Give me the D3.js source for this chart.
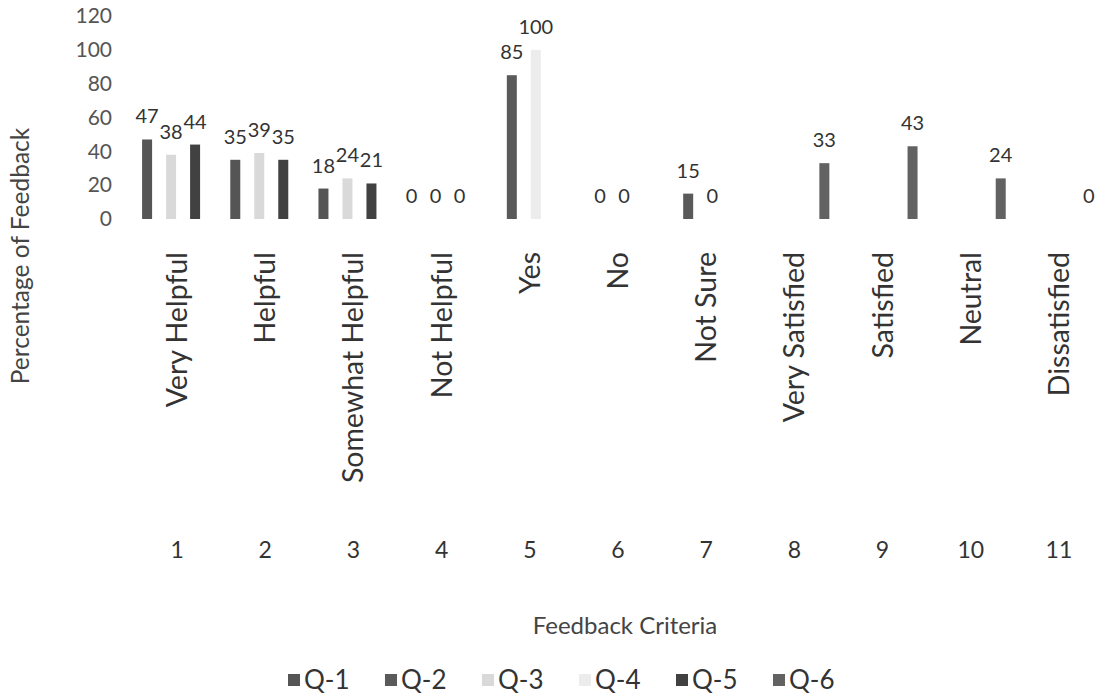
<!DOCTYPE html>
<html>
<head>
<meta charset="utf-8">
<script src="https://cdn.jsdelivr.net/npm/d3@7"></script>
<style>
  body { margin: 0; background: #fff; }
  text { font-family: Lato, "Open Sans", sans-serif; }
</style>
</head>
<body>
<div id="chart_root"></div>
<script>
const widthValue = 1097;
const heightValue = 696;

// category labels (inner level) and group numbers (outer level)
const categories = ["Very Helpful", "Helpful", "Somewhat Helpful", "Not Helpful", "Yes", "No",
  "Not Sure", "Very Satisfied", "Satisfied", "Neutral", "Dissatisfied"];
const groupNumbers = ["1", "2", "3", "4", "5", "6", "7", "8", "9", "10", "11"];
const seriesNames = ["Q-1", "Q-2", "Q-3", "Q-4", "Q-5", "Q-6"];

// values per series, one per category (null = no bar)
const q1 = [47, 35, 18, 0, null, null, null, null, null, null, null];
const q2 = [null, null, null, null, 85, 0, 15, null, null, null, null];
const q3 = [38, 39, 24, 0, null, null, null, null, null, null, null];
const q4 = [null, null, null, null, 100, 0, 0, null, null, null, null];
const q5 = [44, 35, 21, 0, null, null, null, null, null, null, null];
const q6 = [null, null, null, null, null, null, null, 33, 43, 24, 0];
const seriesValues = [q1, q2, q3, q4, q5, q6];

const yTicks = [0, 20, 40, 60, 80, 100, 120];

const colors = ["#555555", "#5a5a5a", "#d9d9d9", "#ececec", "#414141", "#626262"];

const svg = d3.select("#chart_root")
  .append("svg")
  .attr("width", widthValue)
  .attr("height", heightValue);

// scales
const x0 = d3.scaleBand().domain(groupNumbers).range([133, 1103]);
const x1 = d3.scaleBand()
  .domain(seriesNames)
  .range([0, x0.bandwidth()])
  .paddingInner(0.167)
  .paddingOuter(0.758);
const y = d3.scaleLinear().domain([0, 120]).range([219, 16]);

// y axis (labels only)
const yAxis = svg.append("g")
  .attr("transform", "translate(118,0)")
  .call(d3.axisLeft(y).tickValues(yTicks).tickSize(0).tickPadding(6));
yAxis.select(".domain").remove();
yAxis.selectAll("text")
  .style("font-family", "Lato")
  .style("font-size", "21px")
  .attr("fill", "#555");

// bars
const bars = svg.append("g");
seriesValues.forEach((vals, si) => {
  const s = seriesNames[si];
  const pts = vals.map((v, i) => ({ g: groupNumbers[i], v: v })).filter((d) => d.v !== null);
  bars.selectAll(".bar-" + si)
    .data(pts)
    .enter()
    .append("rect")
    .attr("class", "bar-" + si)
    .attr("x", (d) => x0(d.g) + x1(s))
    .attr("width", x1.bandwidth())
    .attr("y", (d) => y(d.v))
    .attr("height", (d) => y(0) - y(d.v))
    .attr("fill", colors[si]);
  // data labels
  bars.selectAll(".lab-" + si)
    .data(pts)
    .enter()
    .append("text")
    .attr("class", "lab-" + si)
    .attr("x", (d) => x0(d.g) + x1(s) + x1.bandwidth() / 2)
    .attr("y", (d) => y(d.v) - 16)
    .attr("text-anchor", "middle")
    .style("font-size", "20px")
    .attr("fill", "#333")
    .text((d) => d.v);
});

// inner category labels (rotated)
const catAxis = svg.append("g")
  .attr("transform", "translate(0,219)")
  .call(d3.axisBottom(x0).tickSize(0).tickFormat((d, i) => categories[i]));
catAxis.select(".domain").remove();
catAxis.selectAll("text")
  .attr("text-anchor", "end")
  .attr("transform", "rotate(-90)")
  .attr("x", -33)
  .attr("y", 0)
  .attr("dy", "0.35em")
  .style("font-family", "Lato")
  .style("font-size", "28.5px")
  .attr("fill", "#333");

// outer group numbers
const numAxis = svg.append("g")
  .attr("transform", "translate(0,542)")
  .call(d3.axisBottom(x0).tickSize(0).tickPadding(0));
numAxis.select(".domain").remove();
numAxis.selectAll("text")
  .style("font-family", "Lato")
  .style("font-size", "23px")
  .attr("fill", "#333");

// axis titles
svg.append("text")
  .attr("transform", "translate(20,256) rotate(-90)")
  .attr("text-anchor", "middle")
  .attr("dy", "0.35em")
  .style("font-size", "24.5px")
  .attr("fill", "#444")
  .text("Percentage of Feedback");

svg.append("text")
  .attr("x", 625)
  .attr("y", 634)
  .attr("text-anchor", "middle")
  .style("font-size", "24px")
  .attr("fill", "#444")
  .text("Feedback Criteria");

// legend
const legend = svg.append("g").attr("transform", "translate(288,680)");
const items = legend.selectAll("g")
  .data(seriesNames)
  .enter()
  .append("g")
  .attr("transform", (d, i) => "translate(" + i * 97 + ",0)");
items.append("rect")
  .attr("x", 0)
  .attr("y", -6)
  .attr("width", 12)
  .attr("height", 12)
  .attr("fill", (d, i) => colors[i]);
items.append("text")
  .attr("x", 16)
  .attr("dy", "0.35em")
  .style("font-size", "26px")
  .attr("fill", "#333")
  .text((d) => d);
</script>
</body>
</html>
